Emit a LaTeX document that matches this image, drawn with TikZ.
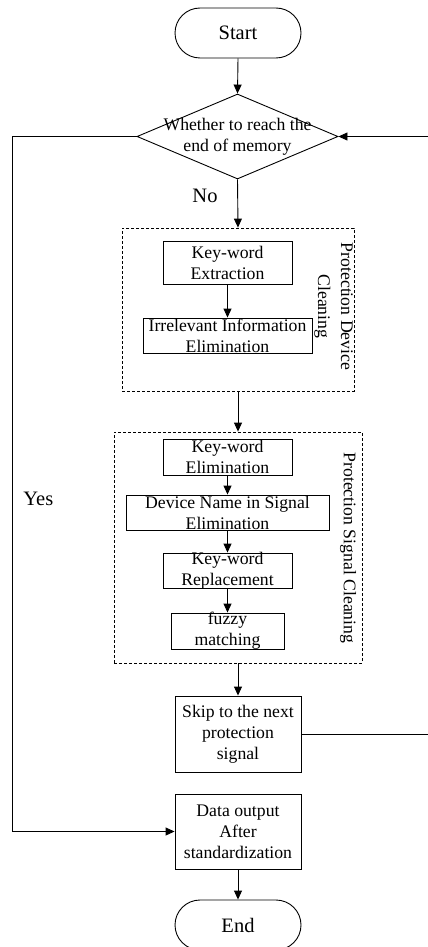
\documentclass[tikz,border=0pt]{standalone}
\usepackage{fontspec}
\setmainfont{Liberation Serif}
\usetikzlibrary{shapes.geometric,arrows.meta}
\begin{document}
\begin{tikzpicture}[x=1pt,y=-1pt,
  line width=0.9pt,
  boxtxt/.style={font=\fontsize{17.7}{21}\selectfont, align=center, inner sep=0},
  bigtxt/.style={font=\fontsize{20.5}{24}\selectfont, inner sep=0},
  proc/.style={draw, rectangle, inner sep=0},
  term/.style={draw, rectangle, rounded corners=25pt, inner sep=0,
    minimum width=126, minimum height=50, font=\fontsize{20.5}{24}\selectfont},
  decision/.style={draw, diamond, inner sep=0},
  group/.style={draw, rectangle, inner sep=0, line width=0.8pt,
    dash pattern=on 3pt off 2pt},
  arr/.style={-{Triangle[length=9pt,width=8pt]}}
]
\useasboundingbox (0,0) rectangle (428,947);

% terminals and decision
\node[term] (start) at (238,33) {Start};
\node[decision, minimum width=201, minimum height=85,
  label={[boxtxt]center:{Whether to reach the\\end of memory}}] (dec) at (237.5,136.5) {};

% device cleaning group
\node[group, minimum width=232, minimum height=163] (grp1) at (238,309.5) {};
\node[proc, minimum width=129, minimum height=43,
  label={[boxtxt]center:{Key-word\\Extraction}}] (kwx) at (227.5,262.5) {};
\node[proc, minimum width=169, minimum height=35,
  label={[boxtxt]center:{Irrelevant Information\\Elimination}}] (irr) at (227.5,335.5) {};
\node[boxtxt, rotate=-90, font=\fontsize{17.7}{23}\selectfont] (lab1) at (333.5,306.5)
  {Protection Device\\Cleaning};

% signal cleaning group
\node[group, minimum width=248, minimum height=231] (grp2) at (238,547.5) {};
\node[proc, minimum width=129, minimum height=36,
  label={[boxtxt]center:{Key-word\\Elimination}}] (kwe) at (227.5,457) {};
\node[proc, minimum width=203, minimum height=35,
  label={[boxtxt]center:{Device Name in Signal\\Elimination}}] (dev) at (227.5,512.5) {};
\node[proc, minimum width=129, minimum height=35,
  label={[boxtxt]center:{Key-word\\Replacement}}] (kwr) at (227.5,570.5) {};
\node[proc, minimum width=113, minimum height=36,
  label={[boxtxt]center:{fuzzy\\matching}}] (fuz) at (227.5,631) {};
\node[boxtxt, rotate=-90] (lab2) at (348,548) {Protection Signal Cleaning};

% remaining steps
\node[proc, minimum width=126, minimum height=76,
  label={[boxtxt]center:{Skip to the next\\protection\\signal}}] (skip) at (238,734) {};
\node[proc, minimum width=126, minimum height=75,
  label={[boxtxt]center:{Data output\\After\\standardization}}] (out) at (238,831.5) {};
\node[term] (end) at (238,925) {End};

% branch labels
\node[bigtxt, anchor=base west] (no) at (192,202) {No};
\node[bigtxt, anchor=base west] (yes) at (23,505) {Yes};

% connectors
\coordinate (rr) at (429,0);
\coordinate (ll) at (12,0);
\draw[arr] (start.south) -- (dec.north);
\draw[arr] (dec.south) -- (grp1.north);
\draw[arr] (kwx.south) -- (irr.north);
\draw[arr] (grp1.south) -- (grp2.north);
\draw[arr] (kwe.south) -- (dev.north);
\draw[arr] (dev.south) -- (kwr.north);
\draw[arr] (kwr.south) -- (fuz.north);
\draw[arr] (grp2.south) -- (skip.north);
\draw[arr] (skip.east) -- (skip.east -| rr) -- (dec.east -| rr) -- (dec.east);
\draw[arr] (dec.west) -- (dec.west -| ll) -- (out.west -| ll) -- (out.west);
\draw[arr] (out.south) -- (end.north);
\end{tikzpicture}
\end{document}
